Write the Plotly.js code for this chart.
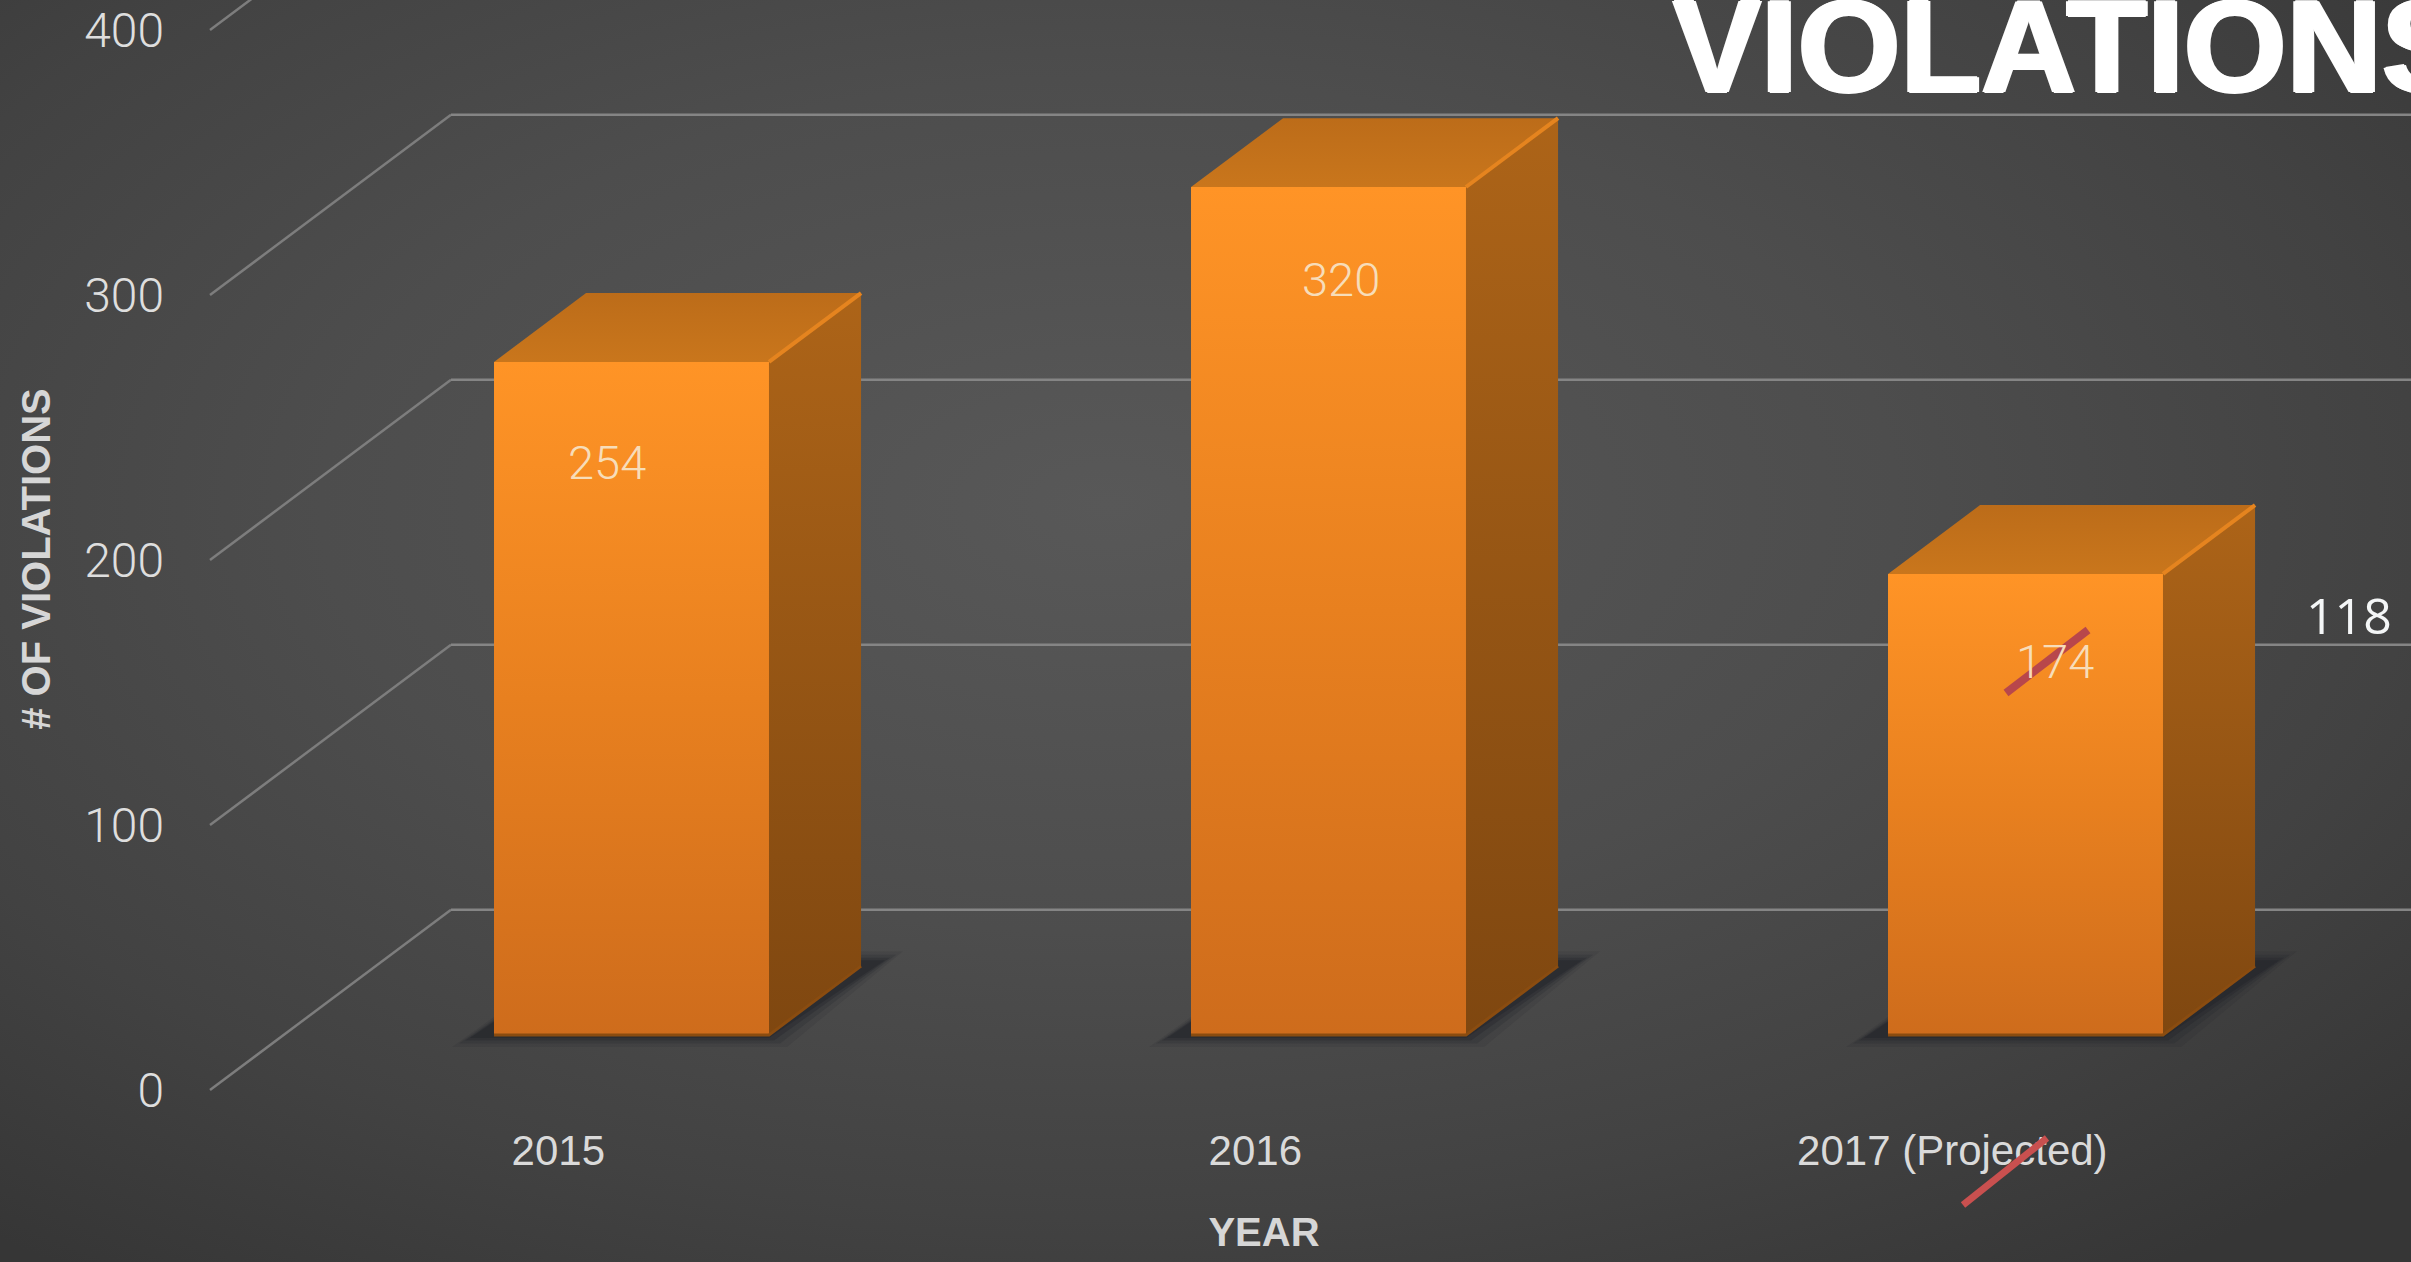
<!DOCTYPE html>
<html><head><meta charset="utf-8">
<script src="https://cdn.plot.ly/plotly-3.0.1.min.js"></script>
<style>
html,body{margin:0;padding:0;width:2411px;height:1262px;overflow:hidden;
background:radial-gradient(ellipse 1750px 950px at 46% 40%,#585858 0%,#4d4d4d 45%,#424242 75%,#363636 100%);}
#c{width:2411px;height:1262px}
</style></head><body><div id="c"></div>
<script>
const years=['2015','2016','2017 (Projected)'];
const violations=[254,320,174];
const revisedLabel='118';
const yTicks=[0,100,200,300,400];
const positions=[0,1,2];
const labelDx=[-0.035,0.018,0.043];
const labelDy=[-38,-35,-33];

const W=2411,H=1262;
const unitX=697,unitY=2.65,x0=631.5,y0=1090;        // scale of the two axes in px
const plotLeft=117,plotBottom=1118;                 // plot area edges, so axis titles centre where the reference has them
const xRange=[(plotLeft-x0)/unitX,(W-x0)/unitX];
const yRange=[(y0-plotBottom)/unitY,y0/unitY];
const depthX=241/unitX,depthY=68;                   // full floor depth in axis units
const barWidth=0.3945,barPlane=0.305,barDepth=0.382;
const axisLeft=(210-x0)/unitX;
const P=(x,v,d)=>[x+depthX*d,v+depthY*d];
const frontBase=(y0-1035)/unitY;

function path(pts){return 'M'+pts.map(p=>p[0]+','+p[1]).join('L')+'Z';}
function polyTrace(pts,scale,opts){
  return Object.assign({type:'scatter',mode:'none',x:pts.map(p=>p[0]),y:pts.map(p=>p[1]),fill:'toself',
    fillgradient:{type:'vertical',colorscale:scale},hoverinfo:'skip',showlegend:false},opts||{});
}
function lineTrace(pts,color,width){
  return {type:'scatter',mode:'lines',x:pts.map(p=>p[0]),y:pts.map(p=>p[1]),line:{color:color,width:width},hoverinfo:'skip',showlegend:false};
}

const shapes=[];
yTicks.forEach(v=>{
  const a=[axisLeft,v],b=P(axisLeft,v,1);
  shapes.push({type:'line',layer:'below',xref:'x',yref:'y',x0:a[0],y0:a[1],x1:b[0],y1:b[1],line:{color:'#7d7d7d',width:2.5}});
  shapes.push({type:'line',layer:'below',xref:'x',yref:'y',x0:b[0],y0:b[1],x1:xRange[1],y1:b[1],line:{color:'#858585',width:2.5}});
});
positions.forEach(i=>{
  [[18,0.12],[11,0.2],[5,0.3],[0,0.4]].forEach(([e,op])=>{
    const l=i-barWidth/2,r=i+barWidth/2,v=frontBase;
    const f=1/unitX,g=1/unitY;
    const s=[[l-(24+e)*f,v-(3+e/2)*g],[r+(e)*f,v-(3+e/2)*g],
      [r+depthX*(barDepth)+(24+e)*f,v+depthY*barDepth+(6+e/2)*g],[l+depthX*barDepth,v+depthY*barDepth+(6+e/2)*g]];
    shapes.push({type:'path',layer:'below',xref:'x',yref:'y',path:path(s),fillcolor:'#202228',opacity:op,line:{width:0}});
  });
});
const px=(x)=>x/W, py=(y)=>1-y/H;
shapes.push({type:'line',xref:'paper',yref:'paper',x0:px(2006),y0:py(693),x1:px(2088),y1:py(630),line:{color:'#B8474B',width:8}});
shapes.push({type:'line',xref:'paper',yref:'paper',x0:px(1963),y0:py(1205),x1:px(2047),y1:py(1138),line:{color:'#C9504F',width:7}});

const traces=[{type:'bar',x:positions,y:violations,base:violations.map(()=>frontBase),width:barWidth,
  marker:{color:'#E8801F',line:{width:0}},hovertemplate:'%{y}<extra></extra>',showlegend:false}];

positions.forEach((i,k)=>{
  const v=violations[k],l=i-barWidth/2,r=i+barWidth/2,b=frontBase,t=frontBase+v;
  traces.push(polyTrace([[l,t],[r,t],[r,b],[l,b]],[[0,'#CE6C1C'],[0.5,'#E8801F'],[1,'#FF9426']]));
  traces.push(polyTrace([[r,t],P(r,t,barDepth),P(r,b,barDepth),[r,b]],[[0,'#7F4710'],[1,'#AD6418']]));
  traces.push(polyTrace([[l,t],[r,t],P(r,t,barDepth),P(l,t,barDepth)],[[0,'#C9761C'],[1,'#BC6C19']]));
  traces.push(lineTrace([[r,t],P(r,t,barDepth)],'#E5841F',4));
  traces.push(lineTrace([[l,b],[r,b],P(r,b,barDepth)],'#8A4C10',3));
});

const annotations=positions.map((i,k)=>({x:i+labelDx[k],y:frontBase+violations[k]+labelDy[k],xref:'x',yref:'y',
  text:String(violations[k]),showarrow:false,font:{family:'Roboto, sans-serif',size:47,color:'#F7DDB9',weight:300}}));
annotations.push({x:(2349-x0)/unitX,y:(y0-615)/unitY,xref:'x',yref:'y',text:revisedLabel,showarrow:false,
  font:{family:'"Open Sans", sans-serif',size:50,color:'#F4F6F7',weight:500}});

const layout={
  width:W,height:H,margin:{l:0,r:0,t:0,b:0,pad:0},
  paper_bgcolor:'rgba(0,0,0,0)',plot_bgcolor:'rgba(0,0,0,0)',showlegend:false,
  title:{text:'VIOLATIONS',x:1673/W,xanchor:'left',xref:'paper',y:1-(-8)/H,yanchor:'top',yref:'container',
    font:{family:'"Liberation Sans", Arial, sans-serif',size:132,color:'#ffffff',weight:700,
      shadow:'2px 0 0 #fff,-2px 0 0 #fff,0 1px 0 #fff,0 -1px 0 #fff'}},
  xaxis:{domain:[plotLeft/W,1],range:xRange,anchor:'free',position:1-1122/H,fixedrange:true,showgrid:false,zeroline:false,showline:false,
    tickmode:'array',tickvals:positions.map(i=>i-0.105),ticktext:years,ticklen:0,
    tickfont:{family:'"Liberation Sans", sans-serif',size:42,color:'#DADADA'},
    title:{text:'YEAR',standoff:44,font:{family:'"Liberation Sans", sans-serif',size:40,color:'#D6D6D6',weight:700}}},
  yaxis:{domain:[1-plotBottom/H,1],range:yRange,anchor:'free',position:164/W,fixedrange:true,showgrid:false,zeroline:false,showline:false,
    tickmode:'array',tickvals:yTicks,ticklen:0,
    tickfont:{family:'Roboto, sans-serif',size:48,color:'#DEDEDE',weight:300},
    title:{text:'# OF VIOLATIONS',standoff:20,font:{family:'"Liberation Sans", sans-serif',size:40,color:'#D6D6D6',weight:700}}},
  shapes:shapes,annotations:annotations
};
Plotly.newPlot('c',traces,layout,{displayModeBar:false});
</script></body></html>
